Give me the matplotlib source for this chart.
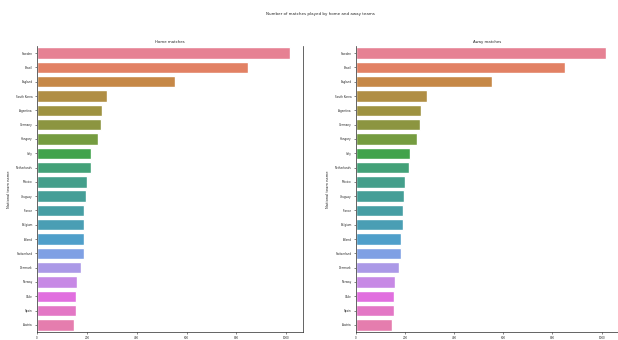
import matplotlib
matplotlib.use("Agg")
import matplotlib.pyplot as plt
import seaborn as sns
import pandas as pd

sns.set_style("ticks")
plt.rcParams["font.family"] = ["DejaVu Sans"]

teams = ["Sweden", "Brazil", "England", "South Korea", "Argentina", "Germany",
         "Hungary", "Italy", "Netherlands", "Mexico", "Uruguay", "France",
         "Belgium", "Poland", "Switzerland", "Denmark", "Norway", "Chile",
         "Spain", "Austria"]
home_counts = [1016, 847, 554, 281, 261, 257, 245, 217, 217, 200, 196, 188,
               188, 188, 188, 176, 160, 156, 156, 148]
away_counts = [1016, 851, 554, 289, 265, 261, 249, 221, 217, 201, 197, 193,
               193, 185, 185, 177, 157, 153, 153, 145]

fig = plt.figure(figsize=(6.18, 3.40), dpi=100)
ax1 = fig.add_axes([37 / 618, 8 / 340, 266 / 618, 286 / 340])
ax2 = fig.add_axes([356 / 618, 8 / 340, 262 / 618, 286 / 340])

for ax, counts, title in [(ax1, home_counts, "Home matches"),
                          (ax2, away_counts, "Away matches")]:
    df = pd.DataFrame({"team": teams, "count": counts})
    sns.barplot(data=df, x="count", y="team", hue="team", palette="husl",
                legend=False, ax=ax, saturation=0.75)
    ax.set_title(title, fontsize=2.8, pad=2)
    ax.set_ylabel("National team name", fontsize=2.6)
    ax.set_xlabel("")
    ax.tick_params(axis="both", labelsize=2.0, length=1.5, width=0.4, pad=1.5)
    ax.yaxis.labelpad = 4
    for s in ax.spines.values():
        s.set_linewidth(0.5)
    sns.despine(ax=ax, top=True, right=False)

fig.suptitle("Number of matches played by home and away teams", fontsize=2.9,
             x=0.518, y=0.965)
fig.savefig("out.png", dpi=100)
